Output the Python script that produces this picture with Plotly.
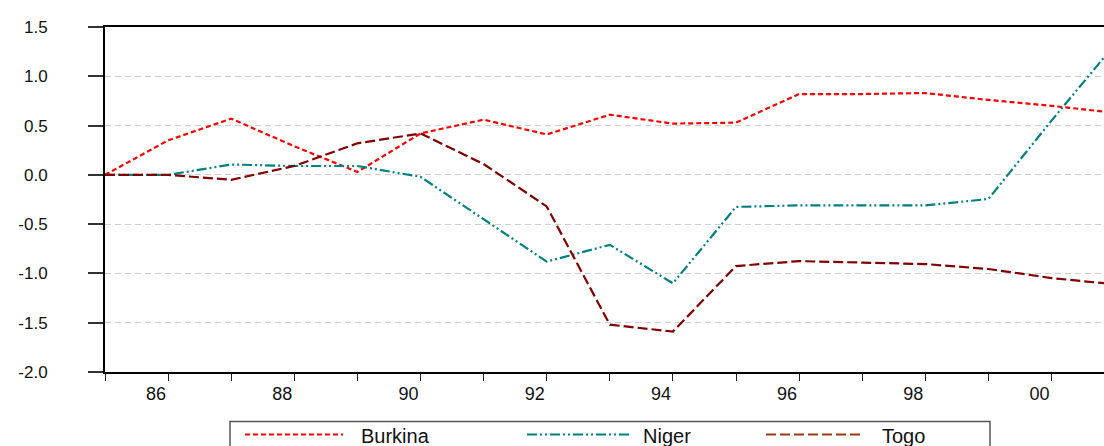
import plotly.graph_objects as go

# Annual index series, 1985-2001
years = list(range(1985, 2002))
burkina = [0.00, 0.35, 0.57, 0.29, 0.03, 0.42, 0.56, 0.41, 0.61, 0.52, 0.53,
           0.82, 0.82, 0.83, 0.76, 0.70, 0.63]
niger = [0.00, 0.00, 0.105, 0.09, 0.09, -0.02, -0.45, -0.88, -0.71, -1.10, -0.325,
         -0.31, -0.31, -0.31, -0.245, 0.55, 1.32]
togo = [0.00, 0.00, -0.05, 0.09, 0.32, 0.42, 0.11, -0.32, -1.52, -1.59, -0.925,
        -0.875, -0.89, -0.905, -0.955, -1.047, -1.11]

x_tick_vals = [1986, 1988, 1990, 1992, 1994, 1996, 1998, 2000]
x_tick_text = ["86", "88", "90", "92", "94", "96", "98", "00"]
y_tick_vals = [1.5, 1.0, 0.5, 0.0, -0.5, -1.0, -1.5, -2.0]
y_tick_text = ["1.5", "1.0", "0.5", "0.0", "-0.5", "-1.0", "-1.5", "-2.0"]

FONT = "Arial, Liberation Sans, sans-serif"
W, H = 1104, 446
ML, MR, MT, MB = 105, 0, 27, 74

series = [
    ("Burkina", burkina, "#FF0000", "5px,3px", "#FF0000"),
    ("Niger", niger, "#008080", "10px,3px,2px,3px,2px,3px", "#008080"),
    ("Togo", togo, "#800000", "10px,4px", "#9A3A10"),
]

fig = go.Figure()
for name, vals, color, dash, _ in series:
    fig.add_trace(go.Scatter(
        x=years, y=vals, mode="lines", name=name,
        line=dict(color=color, width=2.2, dash=dash),
        showlegend=False,
    ))

fig.update_layout(
    width=W, height=H,
    margin=dict(l=ML, r=MR, t=MT, b=MB),
    paper_bgcolor="white", plot_bgcolor="white",
    font=dict(family=FONT, color="#111111"),
    showlegend=False,
)

fig.update_xaxes(
    range=[1985, 1985 + (W - ML) / 63.1],
    tickvals=x_tick_vals, ticktext=x_tick_text,
    ticks="outside", ticklen=7, tickwidth=1, tickcolor="#222222",
    minor=dict(dtick=1, tick0=1985, ticks="outside", ticklen=7,
               tickwidth=1, tickcolor="#222222", showgrid=False),
    ticklabelshift=-12, ticklabelstandoff=-3,
    tickfont=dict(size=18, family=FONT, color="#111111"),
    showline=True, linecolor="black", linewidth=2, mirror=True,
    showgrid=False, zeroline=False,
)

fig.update_yaxes(
    range=[-2.0, 1.5],
    tickvals=y_tick_vals, ticktext=y_tick_text,
    ticks="outside", ticklen=15, tickwidth=2, tickcolor="#333333",
    ticklabelstandoff=37,
    tickfont=dict(size=17, family=FONT, color="#111111"),
    showline=True, linecolor="black", linewidth=2, mirror=False,
    showgrid=True, gridcolor="#CFCFCF", gridwidth=1, griddash="6px,4px",
    zeroline=False,
)

# Legend drawn below the plot as a framed row of line keys and labels
pw = W - ML
ph = H - MT - MB


def px_x(v):
    return (v - ML) / pw


def px_y(v):
    return (H - MB - v) / ph


fig.add_shape(type="rect", xref="paper", yref="paper",
              x0=px_x(230), x1=px_x(990), y0=px_y(470), y1=px_y(421.5),
              line=dict(color="#555555", width=1.5), fillcolor="rgba(0,0,0,0)")

legend_pos = [(245, 343, 359), (527, 630, 641), (766, 862, 880)]
for (name, _, _, dash, lcol), (lx0, lx1, tx) in zip(series, legend_pos):
    fig.add_shape(type="line", xref="paper", yref="paper",
                  x0=px_x(lx0), x1=px_x(lx1), y0=px_y(434.5), y1=px_y(434.5),
                  line=dict(color=lcol, width=2, dash=dash))
    fig.add_annotation(text=name, xref="paper", yref="paper",
                       x=px_x(tx), y=px_y(436), xanchor="left", yanchor="middle",
                       showarrow=False,
                       font=dict(size=20, family=FONT, color="#111111"))

fig.write_html("out.html")
